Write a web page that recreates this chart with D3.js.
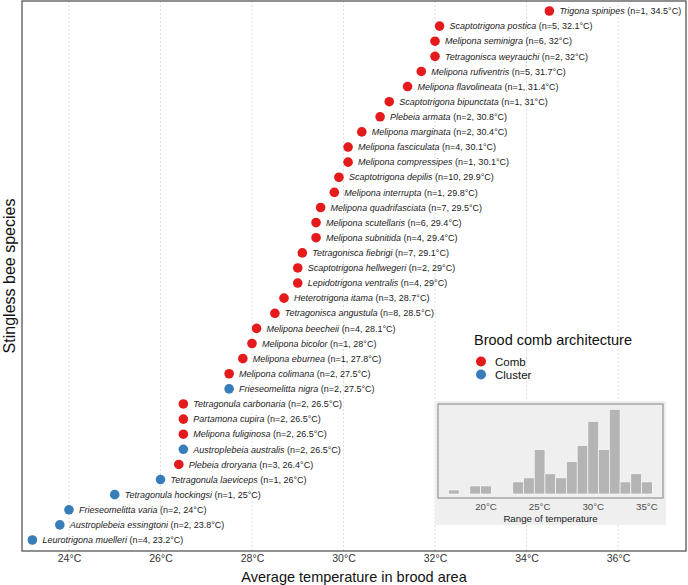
<!DOCTYPE html>
<html>
<head>
<meta charset="utf-8">
<script src="https://d3js.org/d3.v7.min.js"></script>
<style>
  body { margin: 0; background: white; }
  svg text { font-family: "Liberation Sans", Arial, sans-serif; }
</style>
</head>
<body>
<svg id="chart" width="688" height="585"></svg>
<script>
// species, top to bottom
const species = [
  'Trigona spinipes', 'Scaptotrigona postica', 'Melipona seminigra', 'Tetragonisca weyrauchi',
  'Melipona rufiventris', 'Melipona flavolineata', 'Scaptotrigona bipunctata', 'Plebeia armata',
  'Melipona marginata', 'Melipona fasciculata', 'Melipona compressipes', 'Scaptotrigona depilis',
  'Melipona interrupta', 'Melipona quadrifasciata', 'Melipona scutellaris', 'Melipona subnitida',
  'Tetragonisca fiebrigi', 'Scaptotrigona hellwegeri', 'Lepidotrigona ventralis', 'Heterotrigona itama',
  'Tetragonisca angustula', 'Melipona beecheii', 'Melipona bicolor', 'Melipona eburnea',
  'Melipona colimana', 'Frieseomelitta nigra', 'Tetragonula carbonaria', 'Partamona cupira',
  'Melipona fuliginosa', 'Austroplebeia australis', 'Plebeia droryana', 'Tetragonula laeviceps',
  'Tetragonula hockingsi', 'Frieseomelitta varia', 'Austroplebeia essingtoni', 'Leurotrigona muelleri'
];
const nObs = [1, 5, 6, 2, 5, 1, 1, 2, 2, 4, 1, 10, 1, 7, 6, 4, 7, 2, 4, 3, 8, 4, 1, 1, 2, 2, 2, 2, 2, 2, 3, 1, 1, 2, 2, 4];
const temps = [34.5, 32.1, 32, 32, 31.7, 31.4, 31, 30.8, 30.4, 30.1, 30.1, 29.9, 29.8, 29.5, 29.4, 29.4,
  29.1, 29, 29, 28.7, 28.5, 28.1, 28, 27.8, 27.5, 27.5, 26.5, 26.5, 26.5, 26.5, 26.4, 26, 25, 24, 23.8, 23.2];
const arch = ['Comb', 'Comb', 'Comb', 'Comb', 'Comb', 'Comb', 'Comb', 'Comb', 'Comb', 'Comb', 'Comb', 'Comb',
  'Comb', 'Comb', 'Comb', 'Comb', 'Comb', 'Comb', 'Comb', 'Comb', 'Comb', 'Comb', 'Comb', 'Comb',
  'Comb', 'Cluster', 'Comb', 'Comb', 'Comb', 'Cluster', 'Comb', 'Cluster', 'Cluster', 'Cluster', 'Cluster', 'Cluster'];

const xTicks = [24, 26, 28, 30, 32, 34, 36];
const archTypes = ['Comb', 'Cluster'];
const archColors = ['#e41a1c', '#377eb8'];

// inset histogram: bin centres (1°C bins) and counts
const histBins = [17, 19, 20, 23, 24, 25, 26, 27, 28, 29, 30, 31, 32, 33, 34, 35];
const histCounts = [1, 2, 2, 3, 4, 11, 5, 4, 8, 12, 18, 11, 21, 3, 5, 3];
const histTicks = [20, 25, 30, 35];

const data = species.map((s, i) => ({ sp: s, n: nObs[i], t: temps[i], a: arch[i] }));

const svg = d3.select('#chart');
const panel = { left: 22, right: 686, top: 1, bottom: 551 };

const x = d3.scaleLinear().domain([22.973, 37.486]).range([panel.left, panel.right]);
const y = d3.scalePoint().domain(species).range([11, 540]);
const color = d3.scaleOrdinal().domain(archTypes).range(archColors);

// grid
svg.append('g').selectAll('line').data(xTicks).join('line')
  .attr('x1', d => x(d)).attr('x2', d => x(d))
  .attr('y1', panel.top).attr('y2', panel.bottom)
  .attr('stroke', '#d4d4d4').attr('stroke-width', 0.8).attr('stroke-dasharray', '2,2');

// x axis labels
const xAxis = svg.append('g').attr('transform', `translate(0,${panel.bottom})`)
  .call(d3.axisBottom(x).tickValues(xTicks).tickFormat(d => d + '°C').tickSize(0).tickPadding(4));
xAxis.select('.domain').remove();
xAxis.selectAll('text').attr('font-size', 10.5).attr('fill', '#333')
  .style('font-family', '"Liberation Sans", Arial, sans-serif');

svg.append('text').attr('x', (panel.left + panel.right) / 2).attr('y', 582)
  .attr('text-anchor', 'middle').attr('font-size', 14.5).attr('fill', '#111')
  .text('Average temperature in brood area');

svg.append('text').attr('transform', `translate(15,${(panel.top + panel.bottom) / 2}) rotate(-90)`)
  .attr('text-anchor', 'middle').attr('font-size', 16).attr('fill', '#111')
  .text('Stingless bee species');

// points + labels
const rows = svg.append('g').selectAll('g').data(data).join('g');
rows.append('circle')
  .attr('cx', d => x(d.t)).attr('cy', d => y(d.sp)).attr('r', 4.8)
  .attr('fill', d => color(d.a));
const lab = rows.append('text')
  .attr('x', d => x(d.t) + 10).attr('y', d => y(d.sp) + 3.2)
  .attr('font-size', 9).attr('fill', '#1a1a1a');
lab.append('tspan').attr('font-style', 'italic').text(d => d.sp + ' ');
lab.append('tspan').text(d => `(n=${d.n}, ${d.t}°C)`);

// legend
const leg = svg.append('g');
leg.append('text').attr('x', 474).attr('y', 345).attr('font-size', 14.5).attr('fill', '#111')
  .text('Brood comb architecture');
const legY = d3.scalePoint().domain(archTypes).range([361.5, 374.5]);
leg.selectAll('circle').data(archTypes).join('circle')
  .attr('cx', 481).attr('cy', d => legY(d)).attr('r', 5).attr('fill', d => color(d));
leg.selectAll('text.lbl').data(archTypes).join('text').attr('class', 'lbl')
  .attr('x', 495).attr('y', d => legY(d) + 4).attr('font-size', 11.5).attr('fill', '#111')
  .text(d => d);

// inset histogram
const ip = { left: 438, right: 663, top: 404, bottom: 498 };
const inset = svg.append('g');
inset.append('rect').attr('x', 435).attr('y', 401).attr('width', 231).attr('height', 124)
  .attr('fill', '#efefef');
inset.append('rect').attr('x', ip.left).attr('y', ip.top)
  .attr('width', ip.right - ip.left).attr('height', ip.bottom - ip.top)
  .attr('fill', '#efefef').attr('stroke', '#9a9a9a').attr('stroke-width', 1.3);

const hx = d3.scaleLinear().domain([15.53, 36.5]).range([ip.left, ip.right]);
const hy = d3.scaleLinear().domain([0, 21]).range([494, 409.3]);

inset.selectAll('rect.bar').data(histBins).join('rect').attr('class', 'bar')
  .attr('x', d => hx(d - 0.5)).attr('width', d => hx(d + 0.5) - hx(d - 0.5))
  .attr('y', (d, i) => hy(histCounts[i])).attr('height', (d, i) => hy(0) - hy(histCounts[i]))
  .attr('fill', '#b4b4b4').attr('stroke', '#ffffff').attr('stroke-width', 0.6);

inset.selectAll('text.tk').data(histTicks).join('text').attr('class', 'tk')
  .attr('x', d => hx(d)).attr('y', 510).attr('text-anchor', 'middle')
  .attr('font-size', 9.7).attr('fill', '#4d4d4d').text(d => d + '°C');
inset.append('text').attr('x', (ip.left + ip.right) / 2).attr('y', 522)
  .attr('text-anchor', 'middle').attr('font-size', 9.7).attr('fill', '#1a1a1a')
  .text('Range of temperature');

// panel border
svg.append('rect').attr('x', panel.left).attr('y', panel.top)
  .attr('width', panel.right - panel.left).attr('height', panel.bottom - panel.top)
  .attr('fill', 'none').attr('stroke', '#555').attr('stroke-width', 1.3);
</script>
</body>
</html>
